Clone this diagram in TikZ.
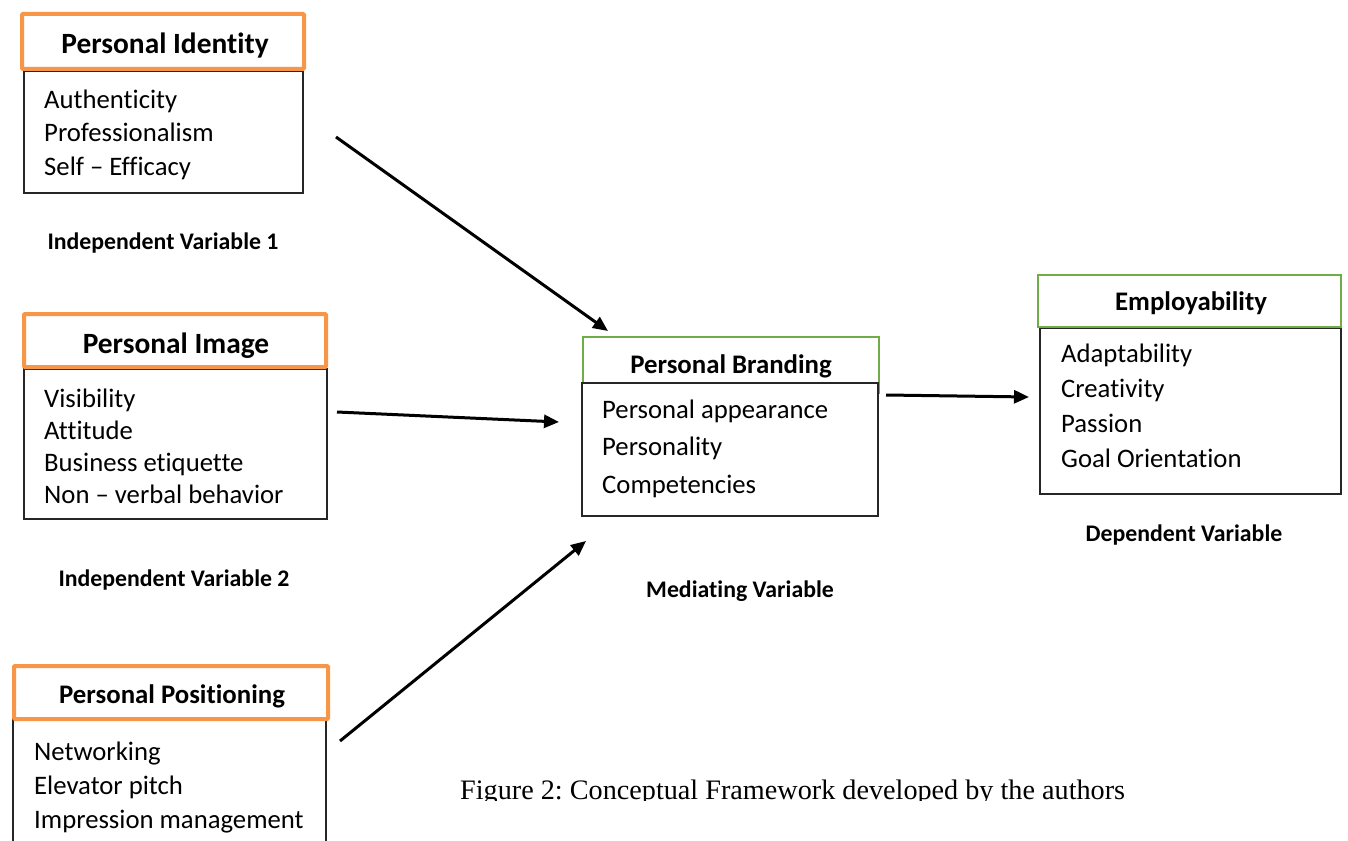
\documentclass[tikz,border=0pt]{standalone}
\usepackage{fontspec}
\setmainfont{Carlito}[Ligatures={NoCommon}]
\newfontfamily\capfont{Liberation Serif}
\usetikzlibrary{arrows.meta}
\frenchspacing
\definecolor{hdrorange}{HTML}{F79646}
\definecolor{hdrgreen}{HTML}{70AD47}
\definecolor{boxline}{HTML}{262626}
\tikzset{
  body/.style={draw=boxline, line width=1.3pt, fill=white, rectangle, inner sep=0pt},
  hdrA/.style={draw=hdrorange, line width=4pt, fill=white, rectangle, inner sep=0pt,
    rounded corners=1pt},
  hdrB/.style={draw=hdrgreen, line width=2pt, fill=white, rectangle, inner sep=0pt},
  bigtitle/.style={anchor=base, inner sep=0pt, font=\fontsize{29.4}{34}\selectfont\bfseries},
  title/.style={anchor=base, inner sep=0pt, font=\fontsize{26.8}{32}\selectfont\bfseries},
  item/.style={anchor=base west, inner sep=0pt, font=\fontsize{26.7}{32}\selectfont},
  varlabel/.style={font=\fontsize{23.8}{28}\selectfont\bfseries, inner sep=0pt},
  link/.style={line width=3pt, -{Triangle[length=15pt,width=13pt]}}
}
\begin{document}
\begin{tikzpicture}[x=1pt,y=-1pt]
\useasboundingbox (0,0) rectangle (1348,840);
\clip (0,0) rectangle (1348,840);

% Personal Identity
\node[body, minimum width=279, minimum height=122] (pib) at (163.5,132) {};
\node[hdrA, minimum width=282, minimum height=55] (pih) at (163,41.5) {};
\node[bigtitle] (pil) at (165,54) {Personal Identity};
\foreach \t [count=\i] in {Authenticity,Professionalism,Self – Efficacy}
  \node[item] (pit\i) at (44,{109+33*(\i-1)}) {\t};
\node[varlabel] (iv1) at (163,243) {Independent Variable 1};

% Personal Image
\node[body, minimum width=303, minimum height=150] (pmb) at (175.5,444) {};
\node[hdrA, minimum width=302, minimum height=53] (pmh) at (175,340.5) {};
\node[bigtitle] (pml) at (176,353) {Personal Image};
\foreach \t [count=\i] in {Visibility,Attitude,Business etiquette,Non – verbal behavior}
  \node[item] (pmt\i) at (44,{407+32.3*(\i-1)}) {\t};
\node[varlabel] (iv2) at (174,580) {Independent Variable 2};

% Personal Positioning
\node[body, minimum width=313, minimum height=140] (ppb) at (169.5,790) {};
\node[hdrA, minimum width=314, minimum height=53] (pph) at (171,692.5) {};
\node[title] (ppl) at (172,703) {Personal Positioning};
\foreach \t [count=\i] in {Networking,Elevator pitch,Impression management}
  \node[item] (ppt\i) at (34,{760+34*(\i-1)}) {\t};

% Personal Branding
\node[hdrB, minimum width=296, minimum height=56] (pbh) at (731,365) {};
\node[body, minimum width=296, minimum height=133] (pbb) at (730,449.5) {};
\node[title] (pbl) at (731,373) {Personal Branding};
\foreach \t [count=\i] in {Personal appearance,Personality,Competencies}
  \node[item] (pbt\i) at (602,{418+37.5*(\i-1)}) {\t};
\node[varlabel] (mv) at (740,591) {Mediating Variable};

% Employability
\node[body, minimum width=301, minimum height=166] (emb) at (1190.5,411) {};
\node[hdrB, minimum width=303, minimum height=52] (emh) at (1189.5,301) {};
\node[title] (eml) at (1191,310) {Employability};
\foreach \t [count=\i] in {Adaptability,Creativity,Passion,Goal Orientation}
  \node[item] (emt\i) at (1061,{362+35.3*(\i-1)}) {\t};
\node[varlabel] (dv) at (1184,535) {Dependent Variable};

% Caption, trimmed just under its baseline
\begin{scope}
  \clip (0,0) rectangle (1348,800);
  \node[anchor=base west, inner sep=0pt, font=\capfont\fontsize{28.2}{33}\selectfont] (cap) at (460,799) {Figure 2: Conceptual Framework developed by the authors};
\end{scope}

% Connectors
\coordinate (s1) at (336,137);
\coordinate (e1) at (608,331);
\coordinate (s2) at (337,412);
\coordinate (e2) at (559,422);
\coordinate (s3) at (340,741);
\coordinate (e3) at (586,541);
\coordinate (s4) at (886,395);
\coordinate (e4) at (1029,397);
\draw[link] (s1) -- (e1);
\draw[link] (s2) -- (e2);
\draw[link] (s3) -- (e3);
\draw[link] (s4) -- (e4);
\end{tikzpicture}
\end{document}
